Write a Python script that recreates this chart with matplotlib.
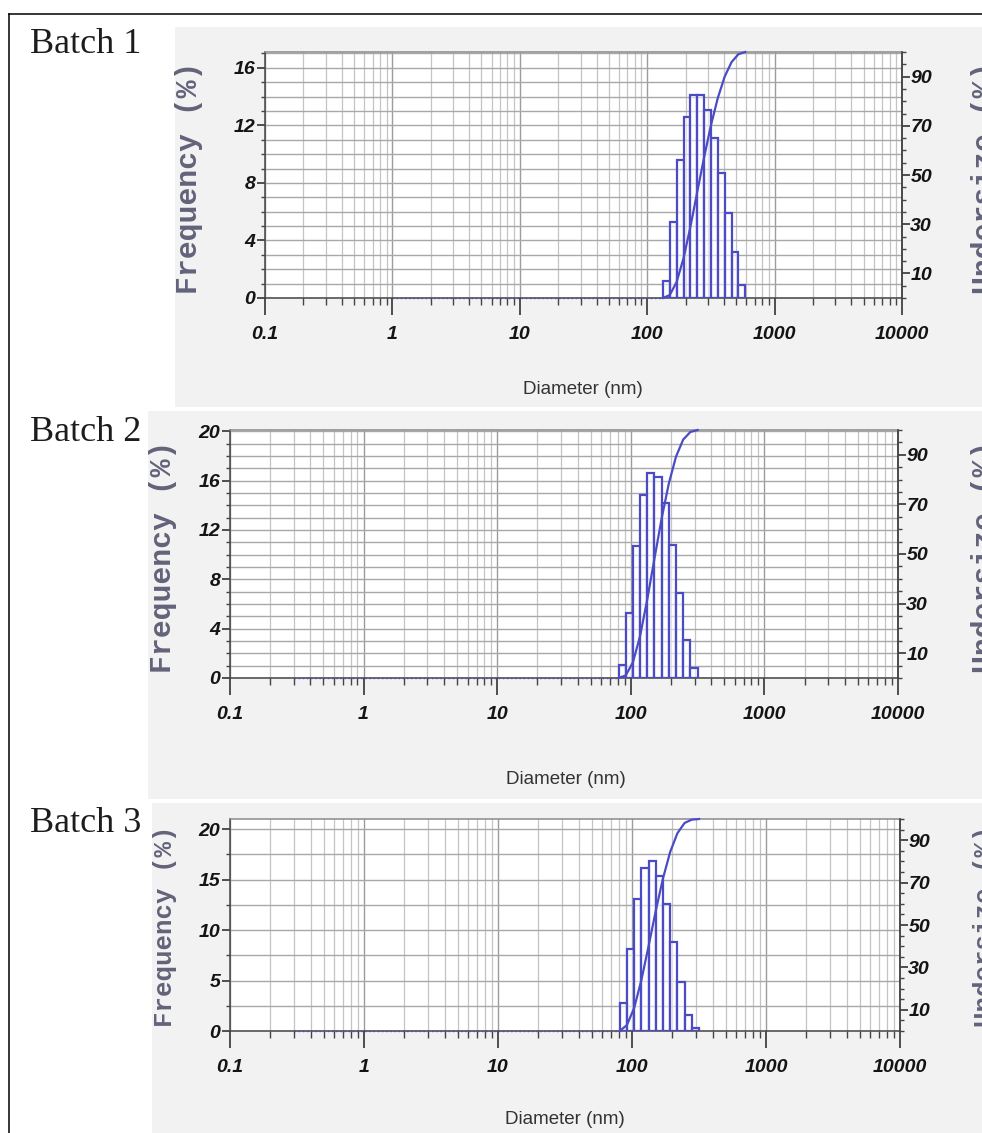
# plot.py
# 三个批次的粒径分布（频率直方图 + 累积 undersize 曲线）

import numpy as np
import matplotlib
matplotlib.use("Agg")
import matplotlib.pyplot as plt
from matplotlib.patches import Rectangle
from matplotlib.font_manager import FontProperties
from matplotlib.ticker import LogLocator, MultipleLocator, NullFormatter

# ---- data ----
# instrument bin centres (nm), shared by all batches
bin_centres = [86.1, 97.5, 110.4, 124.8, 141.3, 160.0, 181.1, 205.1,
               231.7, 262.4, 297.2, 336.5, 381.1, 431.5, 488.7, 553.4]

batch_names = ["Batch 1", "Batch 2", "Batch 3"]
freq_b1 = [1.2, 5.3, 9.6, 12.6, 14.1, 14.1, 13.1, 11.1, 8.7, 5.9, 3.2, 0.9]
freq_b2 = [1.05, 5.3, 10.7, 14.8, 16.6, 16.3, 14.2, 10.8, 6.9, 3.1, 0.8]
freq_b3 = [2.8, 8.1, 13.1, 16.1, 16.8, 15.4, 12.6, 8.8, 4.9, 1.6, 0.3]
first_bin = [4, 0, 0]           # index of the first non-zero bin
zero_line_from = [1.0, 0.3, 0.3]  # where the dotted zero line starts (nm)

freq_top = [17.1, 20.1, 21.0]
freq_ticks = [[0, 4, 8, 12, 16], [0, 4, 8, 12, 16, 20], [0, 5, 10, 15, 20]]
freq_minor = [1, 1, 2.5]
undersize_ticks = [10, 30, 50, 70, 90]
x_ticks = [0.1, 1, 10, 100, 1000, 10000]
x_tick_labels = ["0.1", "1", "10", "100", "1000", "10000"]

# ---- layout (pixels of the 982x1133 picture) ----
W, H = 982, 1133
axes_px = [(265, 52, 902, 298), (230, 430, 898, 678), (230, 819, 900, 1031)]
panels_px = [(175, 27, 982, 407), (148, 411, 982, 799), (152, 803, 982, 1133)]
batch_pos = [(30, 53), (30, 441), (30, 832)]
ylabel_pos = [(189, 178), (163, 557), (165, 926)]
ylabel_size = [21.5, 21.5, 18.5]
xlabel_pos = [(583, 389), (566, 779), (565, 1120)]

BLUE = "#4b4bc6"
tick_font = FontProperties(family=["Liberation Sans Narrow", "Liberation Sans", "DejaVu Sans"],
                           weight="bold", style="italic", size=14)


def plot():
    fig = plt.figure(figsize=(W / 100, H / 100), dpi=100)
    fig.patch.set_facecolor("white")

    bg = fig.add_axes([0, 0, 1, 1], zorder=-1)
    bg.set_xlim(0, W)
    bg.set_ylim(H, 0)
    bg.axis("off")

    # outer frame
    bg.plot([9, 9], [14, H], color="black", lw=1.1)
    bg.plot([9, W], [14, 14], color="black", lw=1.1)

    c = np.array(bin_centres)
    mids = np.sqrt(c[:-1] * c[1:])
    edges = np.concatenate([[c[0] ** 2 / mids[0]], mids, [c[-1] ** 2 / mids[-1]]])

    freqs = [freq_b1, freq_b2, freq_b3]

    for i in range(3):
        px0, py0, px1, py1 = panels_px[i]
        bg.add_patch(Rectangle((px0, py0), px1 - px0, py1 - py0,
                               facecolor="#f2f2f2", edgecolor="none"))
        bx, by = batch_pos[i]
        bg.text(bx, by, batch_names[i], family=["Liberation Serif", "DejaVu Serif"],
                fontsize=26, color="#1c1c1c", ha="left", va="baseline")
        lx, ly = ylabel_pos[i]
        bg.text(lx, ly, "Frequency (%)", family=["Liberation Mono", "DejaVu Sans Mono"],
                weight="bold", fontsize=ylabel_size[i], color="#62627a",
                rotation=90, ha="center", va="center")
        # the right-hand label is cut by the picture edge, as in the original
        bg.text(985, ly, "Undersize (%)", family=["Liberation Mono", "DejaVu Sans Mono"],
                weight="bold", fontsize=ylabel_size[i], color="#62627a",
                rotation=90, ha="center", va="center")
        dx, dy = xlabel_pos[i]
        bg.text(dx, dy, "Diameter (nm)",
                family=["Liberation Sans Narrow", "Liberation Sans", "DejaVu Sans"],
                fontsize=13.5, color="#333333", ha="center", va="center")

        l, t, r, b = axes_px[i]
        ax = fig.add_axes([l / W, (H - b) / H, (r - l) / W, (b - t) / H])
        ax.set_facecolor("white")
        ax.set_xscale("log")
        ax.set_xlim(0.1, 10000)
        ax.set_ylim(0, freq_top[i])

        f = np.array(freqs[i])
        k = first_bin[i]
        left = edges[k:k + len(f)]
        right = edges[k + 1:k + len(f) + 1]
        ax.bar(left, f, width=right - left, align="edge",
               facecolor=(1, 1, 1, 0.55), edgecolor=BLUE, linewidth=1.6, zorder=3)
        ax.plot([zero_line_from[i], left[0]], [0, 0], color=BLUE, lw=1.0,
                ls=(0, (1, 2)), zorder=4, clip_on=False)

        ax.set_xticks(x_ticks)
        ax.set_xticklabels(x_tick_labels)
        ax.xaxis.set_minor_locator(LogLocator(base=10, subs=range(2, 10), numticks=20))
        ax.xaxis.set_minor_formatter(NullFormatter())
        ax.set_yticks(freq_ticks[i])
        ax.yaxis.set_minor_locator(MultipleLocator(freq_minor[i]))

        ax.grid(which="major", axis="x", color="#9c9c9c", lw=1.0, zorder=0)
        ax.grid(which="minor", axis="x", color="#c4c4c4", lw=0.9, zorder=0)
        ax.grid(which="both", axis="y", color="#a8a8a8", lw=1.0, zorder=0)
        ax.set_axisbelow(True)

        ax.tick_params(axis="x", which="major", direction="out", length=12,
                       width=1.2, pad=8, colors="#333333")
        ax.tick_params(axis="x", which="minor", direction="out", length=5,
                       width=1.0, colors="#444444")
        ax.tick_params(axis="y", which="major", direction="out", length=6,
                       width=1.2, pad=1, colors="#333333")
        ax.tick_params(axis="y", which="minor", direction="out", length=3,
                       width=1.0, colors="#444444")
        for s in ax.spines.values():
            s.set_color("#444444")
            s.set_linewidth(1.1)
        ax.spines["top"].set_color("#8a8a8a")

        # cumulative undersize curve on the right axis
        ax2 = ax.twinx()
        ax2.set_ylim(0, 100)
        cum = np.concatenate([[0], np.cumsum(f) / f.sum() * 100])
        ax2.plot(np.concatenate([[left[0]], right]), cum, color=BLUE, lw=1.6,
                 zorder=5, clip_on=False)
        ax2.set_yticks(undersize_ticks)
        ax2.yaxis.set_minor_locator(MultipleLocator(5))
        ax2.tick_params(axis="y", which="major", direction="out", length=6,
                        width=1.2, pad=0, colors="#333333")
        ax2.tick_params(axis="y", which="minor", direction="out", length=3,
                        width=1.0, colors="#444444")
        for s in ax2.spines.values():
            s.set_visible(False)
        ax2.spines["right"].set_visible(True)
        ax2.spines["right"].set_color("#444444")
        ax2.spines["right"].set_linewidth(1.1)

        for lab in ax.get_xticklabels() + ax.get_yticklabels() + ax2.get_yticklabels():
            lab.set_fontproperties(tick_font)
            lab.set_color("#141414")

    fig.savefig("out.png", dpi=100, facecolor="white")


if __name__ == "__main__":
    plot()
